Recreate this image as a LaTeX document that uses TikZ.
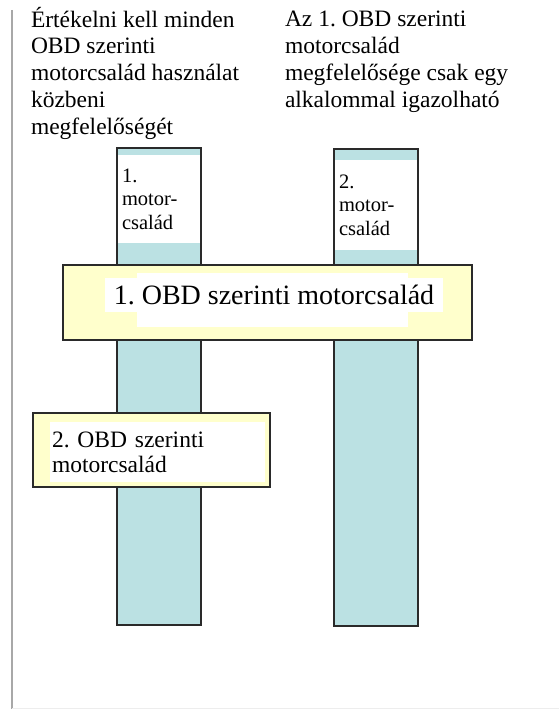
\documentclass[tikz,border=0pt]{standalone}
\usepackage{fontspec}
\setmainfont{Liberation Serif}
\usetikzlibrary{positioning}
\frenchspacing

\definecolor{barblue}{HTML}{BBE1E3}
\definecolor{boxyellow}{HTML}{FFFFCC}
\definecolor{edgegray}{HTML}{2A2A2A}
\definecolor{framegray}{HTML}{A8A8A8}

\begin{document}
\begin{tikzpicture}[x=1pt, y=-1pt,
    every node/.style={inner sep=0pt, outer sep=0pt},
    bar/.style={rectangle, draw=edgegray, line width=2pt, fill=barblue,
                minimum width=84pt, minimum height=477pt, anchor=north},
    panel/.style={rectangle, fill=white, align=left, text width=74pt, inner xsep=4pt,
                  minimum height=88pt, font=\fontsize{20.5}{23.5}\selectfont},
    obdbox/.style={rectangle, draw=edgegray, line width=2pt, fill=boxyellow},
    note/.style={align=left, anchor=base west, font=\fontsize{23.5}{26.7}\selectfont}]
    \useasboundingbox (0,0) rectangle (559,709);

    % page frame
    \draw[framegray, line width=2pt] (12,10) -- (12,709);
    \draw[black!7, line width=1pt] (12,708) -- (559,708);

    % headings (anchored on the last line)
    \node[note] (note1) at (31,134) {Értékelni kell minden\\OBD szerinti\\motorcsalád használat\\közbeni\\megfelelőségét};
    \node[note] (note2) at (285,107) {Az 1. OBD szerinti\\motorcsalád\\megfelelősége csak egy\\alkalommal igazolható};

    % engine families
    \node[bar] (bar1) at (159,148) {};
    \node[bar] (bar2) at (376,149) {};
    \node[panel] (fam1) at (159,199) {1.\\motor-\\család};
    \node[panel, minimum height=90pt] (fam2) at (376,205) {2.\\motor-\\család};

    % OBD families across the bars
    \node[obdbox, minimum width=409pt, minimum height=75pt] (obd1) at (267.5,302.5) {};
    \node[fill=white, minimum width=271pt, minimum height=54pt] (pad1) at (272.5,300) {};
    \node[fill=white, minimum width=338pt, minimum height=34pt,
          font=\fontsize{28}{33}\selectfont] (title1) at (274,295) {1. OBD szerinti motorcsalád};

    \node[obdbox, minimum width=237pt, minimum height=74pt] (obd2) at (151.5,450) {};
    \node[fill=white, align=left, text width=211pt, inner xsep=2pt, minimum height=60pt,
          font=\fontsize{23.5}{25}\selectfont] (title2) at (157.5,452) {2. OBD szerinti\\motorcsalád};
\end{tikzpicture}
\end{document}
